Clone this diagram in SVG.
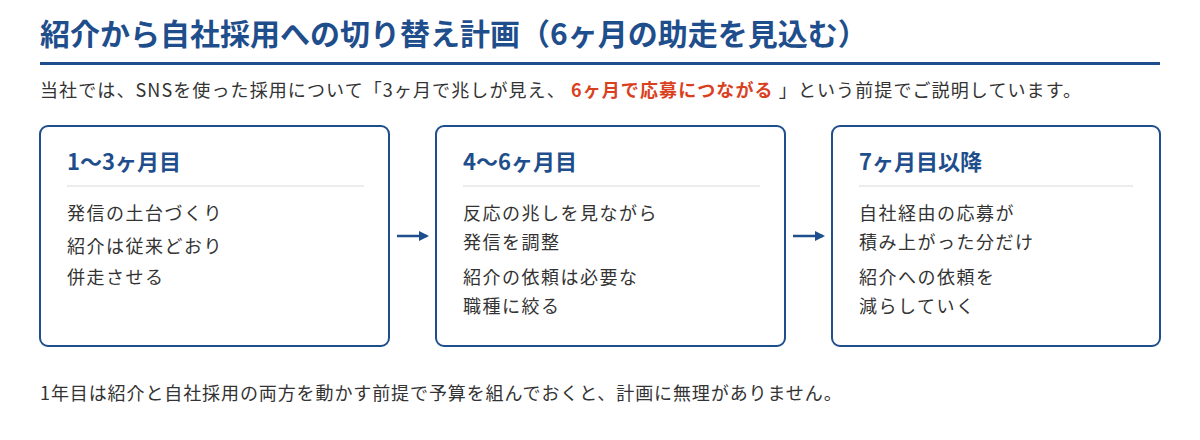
<svg xmlns="http://www.w3.org/2000/svg" width="1200" height="440" viewBox="0 0 1200 440">
<style>
text{font-family:"Noto Sans CJK JP","Noto Sans",sans-serif}
.t{font-size:30px;font-weight:700;fill:#1f4e8c}
.p{font-size:18px;fill:#333;letter-spacing:1.1px}
.r{fill:#d9411e;font-weight:700}
.h{font-size:22px;font-weight:700;fill:#1f4e8c}
.b{font-size:18px;fill:#333;letter-spacing:1.5px}
.box{fill:#fff;stroke:#1f4e8c;stroke-width:2}
.sep{stroke:#ececec;stroke-width:2}
.c{stroke:#1f4e8c;stroke-width:2.5;fill:none}
</style>
<defs><marker id="a" markerWidth="10" markerHeight="10" refX="8" refY="5" orient="auto" markerUnits="userSpaceOnUse"><path d="M0,0 L10,5 L0,10 z" fill="#1f4e8c"/></marker></defs>
<text class="t" x="40" y="45">紹介から自社採用への切り替え計画（6ヶ月の助走を見込む）</text>
<rect x="40" y="62" width="1120" height="3" fill="#1f4e8c"/>
<text class="p" x="40" y="97">当社では、SNSを使った採用について「3ヶ月で兆しが見え、 <tspan class="r">6ヶ月で応募につながる</tspan> 」という前提でご説明しています。</text>
<g id="n1"><rect class="box" x="40" y="126" width="349" height="220" rx="8"/><text class="h" x="67" y="170">1〜3ヶ月目</text><line class="sep" x1="67" y1="186" x2="364" y2="186"/>
<text class="b" x="67" y="220">発信の土台づくり</text><text class="b" x="67" y="253">紹介は従来どおり</text><text class="b" x="67" y="284">併走させる</text></g>
<g id="n2"><rect class="box" x="436" y="126" width="349" height="220" rx="8"/><text class="h" x="463" y="170">4〜6ヶ月目</text><line class="sep" x1="463" y1="186" x2="760" y2="186"/>
<text class="b" x="463" y="220">反応の兆しを見ながら</text><text class="b" x="463" y="249">発信を調整</text><text class="b" x="463" y="284">紹介の依頼は必要な</text><text class="b" x="463" y="313">職種に絞る</text></g>
<g id="n3"><rect class="box" x="832" y="126" width="328" height="220" rx="8"/><text class="h" x="859" y="170">7ヶ月目以降</text><line class="sep" x1="859" y1="186" x2="1133" y2="186"/>
<text class="b" x="859" y="220">自社経由の応募が</text><text class="b" x="859" y="249">積み上がった分だけ</text><text class="b" x="859" y="284">紹介への依頼を</text><text class="b" x="859" y="313">減らしていく</text></g>
<g id="connectors"><line class="c" x1="397" y1="236" x2="427" y2="236" marker-end="url(#a)"/><line class="c" x1="793" y1="236" x2="823" y2="236" marker-end="url(#a)"/></g>
<text class="p" x="40" y="400" style="letter-spacing:0.9px">1年目は紹介と自社採用の両方を動かす前提で予算を組んでおくと、計画に無理がありません。</text>
</svg>
